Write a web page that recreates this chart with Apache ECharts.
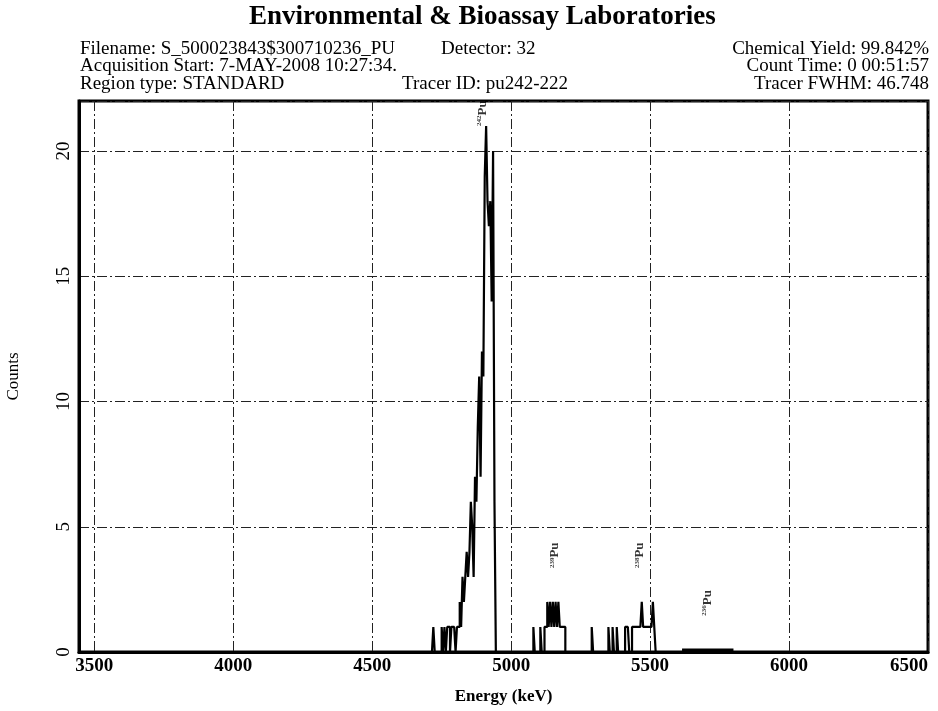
<!DOCTYPE html>
<html><head><meta charset="utf-8">
<script src="https://cdn.jsdelivr.net/npm/echarts@6/dist/echarts.min.js"></script>
<style>html,body{margin:0;padding:0;background:#fff}#c{width:938px;height:711px}</style>
</head><body><div id="c"></div>
<script>
// Spectrum channels: energy (keV, channel start) and counts
const energies = [3445,4715,4720,4725,4750,4755,4760,4765,4770,4775,4780,4785,4790,4795,4800,4805,4810,4815,4820,4825,4830,4835,4840,4845,4850,4855,4860,4865,4870,4875,4880,4885,4890,4895,4900,4905,4910,4915,4920,4925,4930,4935,4940,4945,
  5080,5085,5105,5110,5120,5125,5130,5135,5140,5145,5150,5155,5160,5165,5170,5175,5180,5185,5190,5195,
  5290,5295,5350,5355,5365,5370,5380,5385,5410,5415,5420,5425,5435,5440,5445,5450,5455,5460,5465,5470,5475,5480,5485,5490,5495,5500,5505,5510,5515,5520,6500];
const counts = [0,0,1,0,1,0,1,0,1,1,0,1,1,1,0,1,1,2,1,3,2,3,4,3,4,6,5,3,7,6,9,11,7,12,11,19,21,18,17,18,14,20,6,0,
  1,0,1,0,1,1,2,1,2,1,2,1,2,1,2,1,1,1,1,0,
  1,0,1,0,1,0,1,0,1,1,1,0,1,1,1,1,1,1,1,2,1,1,1,1,1,1,1,2,1,0,0];
// Region of interest marker for 236Pu
const roiEnergies = [5615, 5800];
const roiLevel = [0.08, 0.08];
// Nuclide labels
const nuclides = ['242', '239', '238', '236'];
const nuclideEnergy = [4896, 5157, 5464, 5707];
const nuclideLabelY = [21.0, 3.35, 3.35, 1.45];
const xTicks = [3500, 4000, 4500, 5000, 5500, 6000, 6500];

const serif = '"Liberation Serif","DejaVu Serif",serif';
const chart = echarts.init(document.getElementById('c'));
const headerStyle = {fontFamily: serif, fontSize: 19, color: '#000', fontWeight: 'normal'};
chart.setOption({
  animation: false,
  title: [
    {text: 'Environmental & Bioassay Laboratories', left: 244, top: -1, textStyle: {fontFamily: serif, fontSize: 27, fontWeight: 'bold', color: '#000'}},
    {text: 'Filename: S_500023843$300710236_PU', left: 75, top: 35, textStyle: headerStyle},
    {text: 'Detector: 32', left: 436, top: 35, textStyle: headerStyle},
    {text: 'Acquisition Start: 7-MAY-2008 10:27:34.', left: 75, top: 52, textStyle: headerStyle},
    {text: 'Region type: STANDARD', left: 75, top: 70, textStyle: headerStyle},
    {text: 'Tracer ID: pu242-222', left: 397, top: 70, textStyle: headerStyle},
    {text: 'Chemical Yield: 99.842%', right: 4, top: 35, textStyle: headerStyle},
    {text: 'Count Time: 0 00:51:57', right: 4, top: 52, textStyle: headerStyle},
    {text: 'Tracer FWHM: 46.748', right: 4, top: 70, textStyle: headerStyle}
  ],
  grid: {left: 79, right: 10, top: 101, bottom: 59, outerBoundsMode: 'none', containLabel: false, show: true, borderColor: '#000', borderWidth: 3, backgroundColor: 'transparent'},
  xAxis: {
    type: 'value', min: 3445, max: 6500,
    name: 'Energy (keV)', nameLocation: 'middle', nameGap: 36,
    nameTextStyle: {fontFamily: serif, fontSize: 17, fontWeight: 'bold', color: '#000'},
    axisLine: {show: true, lineStyle: {color: '#000', width: 3}},
    axisTick: {show: false, customValues: xTicks},
    axisLabel: {customValues: xTicks, formatter: v => String(v), fontFamily: serif, fontSize: 19, fontWeight: 'bold', color: '#000', margin: 5, alignMaxLabel: 'right'},
    splitLine: {show: true, lineStyle: {color: '#222', width: 1, type: [10, 3, 2, 3]}}
  },
  yAxis: {
    type: 'value', min: 0, max: 22, interval: 5,
    name: 'Counts', nameLocation: 'middle', nameGap: 57, nameRotate: 90,
    nameTextStyle: {fontFamily: serif, fontSize: 17, color: '#000'},
    axisLine: {show: true, lineStyle: {color: '#000', width: 3}},
    axisTick: {show: false},
    axisLabel: {rotate: 90, showMaxLabel: false, fontFamily: serif, fontSize: 19, color: '#000', margin: 5},
    splitLine: {show: true, lineStyle: {color: '#222', width: 1, type: [10, 3, 2, 3]}}
  },
  series: [
    {type: 'line', step: 'end', symbol: 'none', data: energies.map((e, i) => [e, counts[i]]),
     lineStyle: {color: '#000', width: 2.2}, z: 5},
    {type: 'line', symbol: 'none', data: roiEnergies.map((e, i) => [e, roiLevel[i]]),
     lineStyle: {color: '#000', width: 3}, z: 5},
    {type: 'scatter', symbolSize: 0, z: 6,
     data: nuclides.map((n, i) => ({value: [nuclideEnergy[i], nuclideLabelY[i]], name: n})),
     label: {show: true, position: [0, 0], rotate: 90, align: 'left', verticalAlign: 'middle',
       formatter: p => '{s|' + p.name + '}{b|Pu}',
       rich: {s: {fontFamily: serif, fontSize: 7, fontWeight: 'bold', color: '#000', verticalAlign: 'top'},
              b: {fontFamily: serif, fontSize: 13, fontWeight: 'bold', color: '#000'}}}}
  ]
});
</script></body></html>
